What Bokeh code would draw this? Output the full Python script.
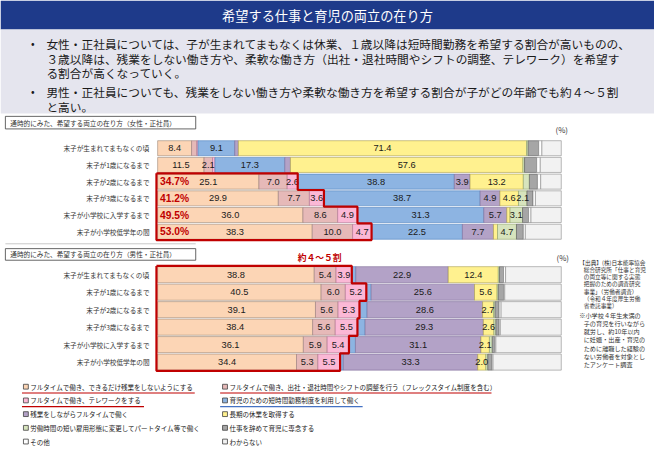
import numpy as np
from bokeh.plotting import figure
from bokeh.models import Range1d, ColumnDataSource
from bokeh.core.properties import value
from bokeh.embed import file_html
from bokeh.resources import INLINE

# ---------------- data ----------------
title = "希望する仕事と育児の両立の在り方"
bullet1 = ["女性・正社員については、子が生まれてまもなくは休業、１歳以降は短時間勤務を希望する割合が高いものの、",
           "３歳以降は、残業をしない働き方や、柔軟な働き方（出社・退社時間やシフトの調整、テレワーク）を希望す",
           "る割合が高くなっていく。"]
bullet2 = ["男性・正社員についても、残業をしない働き方や柔軟な働き方を希望する割合が子がどの年齢でも約４～５割",
           "と高い。"]
women_title = "通時的にみた、希望する両立の在り方（女性・正社員）"
men_title = "通時的にみた、希望する両立の在り方（男性・正社員）"
men_note = "約４～５割"

categories = ["末子が生まれてまもなくの頃", "末子が1歳になるまで", "末子が2歳になるまで",
              "末子が3歳になるまで", "末子が小学校に入学するまで", "末子が小学校低学年の間"]

series = ["フルタイムで働き、できるだけ残業をしないようにする",
          "フルタイムで働き、出社・退社時間やシフトの調整を行う（フレックスタイム制度を含む）",
          "フルタイムで働き、テレワークをする",
          "育児のための短時間勤務制度を利用して働く",
          "残業をしながらフルタイムで働く",
          "長期の休業を取得する",
          "労働時間の短い雇用形態に変更してパートタイム等で働く",
          "仕事を辞めて育児に専念する",
          "その他",
          "わからない"]
colors = ["#FCD5B5", "#E6B9B8", "#FBB8D6", "#8DB4E2", "#B3A2C7",
          "#FFF18F", "#D7E4BD", "#A6A6A6", "#FFFFFF", "#F2F2F2"]
edges = ["#9C8775", "#9C7F7E", "#B0708E", "#4F81BD", "#7E6B98",
         "#A99E4E", "#8EA26A", "#595959", "#7F7F7F", "#8C8C8C"]

# women (female regular employees), one list per series, in category order
w_less_overtime = [8.4, 11.5, 25.1, 29.9, 36.0, 38.3]
w_flex          = [1.3, 2.1, 7.0, 7.7, 8.6, 10.0]
w_telework      = [0.3, 0.6, 2.6, 3.6, 4.9, 4.7]
w_short_hours   = [9.1, 17.3, 38.8, 38.7, 31.3, 22.5]
w_overtime_full = [0.9, 1.4, 3.9, 4.9, 5.7, 7.7]
w_long_leave    = [71.4, 57.6, 13.2, 4.6, 0.8, 1.0]
w_part_time     = [0.4, 0.4, 1.5, 2.1, 3.1, 4.7]
w_quit          = [2.6, 3.0, 2.0, 1.5, 1.5, 1.7]
w_other         = [0.8, 0.9, 0.8, 0.6, 0.6, 0.5]
w_unknown       = [4.8, 5.2, 5.1, 6.4, 7.5, 8.9]
w_highlight     = [None, None, 34.7, 41.2, 49.5, 53.0]

# men (male regular employees)
m_less_overtime = [38.8, 40.5, 39.1, 38.4, 36.1, 34.4]
m_flex          = [5.4, 6.0, 5.6, 5.6, 5.9, 5.3]
m_telework      = [3.9, 5.2, 5.3, 5.5, 5.4, 5.5]
m_short_hours   = [1.0, 1.2, 1.9, 1.9, 1.6, 0.8]
m_overtime_full = [22.9, 25.6, 28.6, 29.3, 31.1, 33.3]
m_long_leave    = [12.4, 5.6, 2.7, 2.6, 2.1, 2.0]
m_part_time     = [0.3, 0.3, 0.4, 0.5, 0.7, 0.5]
m_quit          = [1.0, 1.3, 1.0, 0.8, 0.6, 1.0]
m_other         = [0.5, 0.3, 0.5, 0.3, 0.3, 0.3]
m_unknown       = [13.8, 14.0, 14.9, 15.1, 16.2, 16.9]

source_note = ["【出典】(株)日本能率協会", "総合研究所「仕事と育児", "の両立等に関する実態",
               "把握のための調査研究", "事業」（労働者調査）", "（令和４年度厚生労働", "省委託事業）"]
sample_note = ["※小学校４年生未満の", "子の育児を行いながら", "就労し、約10年以内", "に妊娠・出産・育児の",
               "ために離職した経験の", "ない労働者を対象とし", "たアンケート調査"]

# ---------------- layout ----------------
W, H = 654, 448
RW, RH = 670, 464
FS = W / RW
FONT = value("Noto Sans CJK JP")


def fs(px):
    return f"{px * FS:.2f}px"


p = figure(width=W, height=H, x_range=Range1d(0, RW), y_range=Range1d(RH, 0),
           output_backend="svg", toolbar_location=None, min_border=0,
           x_axis_location=None, y_axis_location=None)
p.xgrid.visible = False
p.ygrid.visible = False
p.outline_line_color = None
p.background_fill_color = "white"

X0, X1 = 161.0, 574.5
k = (X1 - X0) / 100.0
TOP_Y0, TOP_DY = 153.0, 17.3
BOT_Y0, BOT_DY = 284.0, 18.1
p.extra_x_ranges = {"pct": Range1d(-X0 / k, (RW - X0) / k)}
p.extra_y_ranges = {"top": Range1d((RH - TOP_Y0) / TOP_DY, -TOP_Y0 / TOP_DY),
                    "bot": Range1d((RH - BOT_Y0) / BOT_DY, -BOT_Y0 / BOT_DY)}

# header
p.quad(left=[0], right=[RW], top=[0], bottom=[30], fill_color="#1E3A8A", line_color=None)
p.quad(left=[0], right=[RW], top=[30], bottom=[117], fill_color="#E5E5EE", line_color=None)
p.text(x=[RW / 2], y=[15.5], text=[title], text_color="white", text_font=FONT,
       text_font_size=fs(13.5), text_align="center", text_baseline="middle")
lines = bullet1 + bullet2
ly = [45, 60, 75, 94.5, 109.5]
p.text(x=[47] * len(lines), y=ly, text=lines, text_color="#1a1a1a", text_font=FONT,
       text_font_size=fs(12), text_align="left", text_baseline="middle")
p.text(x=[33, 33], y=[ly[0], ly[3]], text=["•", "•"], text_color="#1a1a1a", text_font=FONT,
       text_font_size=fs(11), text_align="center", text_baseline="middle")

# chart title boxes
for (yt, yb, t) in [(120, 133, women_title), (257, 269, men_title)]:
    p.quad(left=[5], right=[200], top=[yt], bottom=[yb], fill_color="white",
           line_color="#404040", line_width=0.8)
    p.text(x=[10], y=[(yt + yb) / 2], text=[t], text_color="#333333", text_font=FONT,
           text_font_size=fs(6.8), text_align="left", text_baseline="middle")
p.segment(x0=[5], y0=[252], x1=[200], y1=[252], line_color="#C8C8C8", line_width=1)

p.text(x=[575, 576], y=[134, 266], text=["(%)", "(%)"], text_color="#333333", text_font=FONT,
       text_font_size=fs(8), text_align="center", text_baseline="middle")
p.text(x=[327], y=[266], text=[men_note], text_color="#C00000", text_font=FONT,
       text_font_size=fs(9), text_font_style="bold", text_align="center", text_baseline="middle")


def draw_chart(data, yname, bar_h):
    vals = np.array(data, dtype=float)
    rows = np.arange(len(categories))
    cum = np.vstack([np.zeros(len(categories)), np.cumsum(vals, axis=0)])
    for j in range(len(series)):
        src = ColumnDataSource(dict(y=rows, left=cum[j], right=cum[j + 1]))
        p.hbar(y="y", left="left", right="right", height=bar_h, source=src,
               fill_color=colors[j], line_color=edges[j], line_width=0.6,
               x_range_name="pct", y_range_name=yname)
    lx, lyy, lt = [], [], []
    for j in range(7):
        for r in rows:
            v = vals[j, r]
            if v >= 2.0:
                lx.append((cum[j, r] + cum[j + 1, r]) / 2)
                lyy.append(r)
                lt.append(f"{v:.1f}")
    p.text(x=lx, y=lyy, text=lt, text_color="#1a1a1a", text_font=value("Liberation Sans"),
           text_font_size=fs(9.5), text_align="center", text_baseline="middle",
           x_range_name="pct", y_range_name=yname)
    p.text(x=[-2.0] * len(categories), y=rows, text=categories, text_color="#333333",
           text_font=FONT, text_font_size=fs(6.8), text_align="right", text_baseline="middle",
           x_range_name="pct", y_range_name=yname)
    return cum


def outline(cum3, rows, yname):
    xs = [-0.3]
    ys = [rows[0] - 0.5]
    for r in rows:
        xs += [cum3[r], cum3[r]]
        ys += [r - 0.5, r + 0.5]
    xs += [-0.3, -0.3]
    ys += [rows[-1] + 0.5, rows[0] - 0.5]
    p.line(x=xs, y=ys, line_color="#C00000", line_width=2.2,
           x_range_name="pct", y_range_name=yname)


women = [w_less_overtime, w_flex, w_telework, w_short_hours, w_overtime_full,
         w_long_leave, w_part_time, w_quit, w_other, w_unknown]
men = [m_less_overtime, m_flex, m_telework, m_short_hours, m_overtime_full,
       m_long_leave, m_part_time, m_quit, m_other, m_unknown]

cw = draw_chart(women, "top", 0.9)
cm = draw_chart(men, "bot", 0.92)

hl_rows = [i for i, v in enumerate(w_highlight) if v is not None]
outline(cw[3], hl_rows, "top")
outline(cm[3], list(range(len(categories))), "bot")
p.text(x=[0.6] * len(hl_rows), y=hl_rows, text=[f"{w_highlight[i]:.1f}%" for i in hl_rows],
       text_color="#C00000", text_font=value("Liberation Sans"), text_font_size=fs(10.5),
       text_font_style="bold", text_align="left", text_baseline="middle",
       x_range_name="pct", y_range_name="top")

# notes on the right
p.text(x=[593] + [597.5] * (len(source_note) - 1), y=[271 + 7.5 * i for i in range(len(source_note))],
       text=source_note, text_color="#333333", text_font=FONT, text_font_size=fs(5.8),
       text_align="left", text_baseline="middle")
p.text(x=[593] + [597.5] * (len(sample_note) - 1), y=[326 + 8.5 * i for i in range(len(sample_note))],
       text=sample_note, text_color="#333333", text_font=FONT, text_font_size=fs(6.3),
       text_align="left", text_baseline="middle")

# legend
lgx = [26 + 204 * (i % 2) for i in range(len(series))]
lgy = [400 + 14.2 * (i // 2) for i in range(len(series))]
p.rect(x=lgx, y=lgy, width=5, height=5, fill_color=colors, line_color="#404040", line_width=0.8)
p.text(x=[x + 4.5 for x in lgx], y=lgy, text=series, text_color="#1a1a1a", text_font=FONT,
       text_font_size=fs(6.7), text_align="left", text_baseline="middle")
ul_x0 = [22, 225, 22, 225]
ul_x1 = [199, 503, 147, 371]
ul_c = ["#C00000", "#C00000", "#C00000", "#4472C4"]
p.segment(x0=ul_x0, y0=[y + 6.5 for y in lgy[:4]], x1=ul_x1, y1=[y + 6.5 for y in lgy[:4]],
          line_color=ul_c, line_width=1.2)

open("out.html", "w").write(file_html(p, INLINE))
